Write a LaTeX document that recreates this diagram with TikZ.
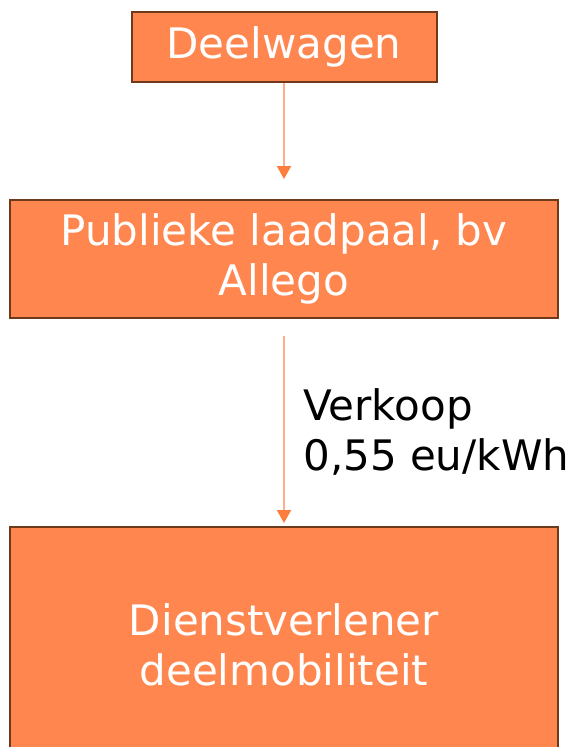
\documentclass[tikz,border=0pt]{standalone}
\usepackage{fontspec}
\setmainfont{DejaVu Sans}
\usetikzlibrary{positioning,arrows.meta}
\definecolor{boxfill}{HTML}{FF874F}
\definecolor{boxline}{HTML}{6E3A1C}
\definecolor{arrowline}{HTML}{FFAE85}
\definecolor{arrowhead}{HTML}{FF7D3C}
\tikzset{main node/.style={rectangle,fill=boxfill,draw=boxline,line width=2pt,text=white,
    align=center,font=\fontsize{42}{50}\selectfont,inner sep=0pt},
  flow/.style={draw=arrowline,line width=2pt,-{Triangle[width=14pt,length=13pt,color=arrowhead]}},
}

\begin{document}
\begin{tikzpicture}[x=1pt,y=1pt]
		\useasboundingbox (0,0) rectangle (580,-747);
		\clip (0,0) rectangle (580,-747);
		\node[main node,minimum width=305pt,minimum height=70pt] (A) at (284,-47) {Deelwagen};
		\node[main node,minimum width=548pt,minimum height=118pt] (B) [below =116pt of A] {Publieke laadpaal, bv\\Allego};
		\node[main node,minimum width=548pt,minimum height=236pt] (C) [below =207pt of B] {Dienstverlener\\deelmobiliteit};
		
		\path[flow,shorten >=20pt] (A) -- (A |- B.north);
		\path[flow,shorten <=17pt,shorten >=3pt] (B) -- (B |- C.north)
		node[pos=0.5,right=15pt,yshift=-9pt,align=left,text=black,font=\fontsize{42}{50}\selectfont] {Verkoop\\0,55 eu/kWh};
		
	\end{tikzpicture}
\end{document}
